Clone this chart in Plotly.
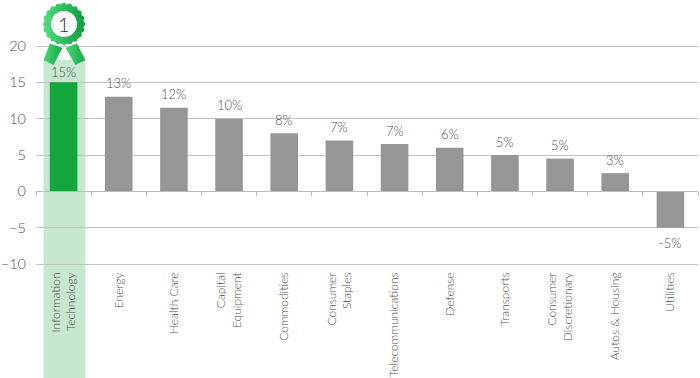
import base64, math
import plotly.graph_objects as go

categories = ["Information<br>Technology", "Energy", "Health Care", "Capital<br>Equipment", "Commodities",
              "Consumer<br>Staples", "Telecommunications", "Defense", "Transports",
              "Consumer<br>Discretionary", "Autos & Housing", "Utilities"]
values = [15, 13, 11.5, 10, 8, 7, 6.5, 6, 5, 4.5, 2.5, -5]
labels = ["15%", "13%", "12%", "10%", "8%", "7%", "7%", "6%", "5%", "5%", "3%", "-5%"]
label_gaps = [10.5, 13.5, 13.5, 13.5, 13.5, 13.5, 13.5, 13.5, 13.5, 13.5, 13.5, -15]
y_ticks = [-10, -5, 0, 5, 10, 15, 20]

GREEN = "#12a63d"
GREY = "#969696"
BAND = "#c5e8cf"
TEXT = "#505050"
FONT = "Lato"
W, H = 700, 378
L, R, T, B = 35.5, 698, 44, 266
PAD = 2 * 30 / 218  # range padding of two pixels, so the edge gridlines are still drawn

colors = [GREEN] + [GREY] * (len(values) - 1)

# medal graphic (decorative) as SVG
n = 20
pts = []
cx, cy = 32, 21.5
for i in range(n * 4):
    a = 2 * math.pi * i / (n * 4)
    r = 20.6 + 0.9 * math.cos(a * n)
    pts.append(f"{cx + r * math.cos(a):.2f},{cy + r * math.sin(a):.2f}")
svg = f'''<svg xmlns="http://www.w3.org/2000/svg" width="64" height="64" viewBox="0 0 64 64">
<defs><linearGradient id="g" x1="0" x2="1" y1="0" y2="0"><stop offset="0" stop-color="#4fe07f"/><stop offset="1" stop-color="#119a40"/></linearGradient>
<linearGradient id="h" x1="0" x2="1" y1="0" y2="0"><stop offset="0" stop-color="#45d974"/><stop offset="1" stop-color="#16a648"/></linearGradient></defs>
<polygon points="18,41 30.5,45.5 21.5,62.5 11.5,57.5" fill="url(#h)"/>
<polygon points="45,41 33.5,45.5 43.5,62.5 53.5,57.5" fill="url(#h)"/>
<polygon points="{' '.join(pts)}" fill="url(#g)"/>
<circle cx="{cx}" cy="{cy}" r="13" fill="#ffffff"/></svg>'''
uri = "data:image/svg+xml;base64," + base64.b64encode(svg.encode()).decode()

fig = go.Figure()
fig.add_trace(go.Bar(x=list(range(len(values))), y=values, marker=dict(color=colors, line=dict(width=0)),
                     width=0.5, hoverinfo="skip"))
fig.add_trace(go.Scatter(x=[0], y=[0], xaxis="x2", mode="markers", marker=dict(opacity=0), hoverinfo="skip"))

for i, (v, lab, gap) in enumerate(zip(values, labels, label_gaps)):
    fig.add_annotation(x=i, y=v, text=lab, showarrow=False, xanchor="center", yanchor="middle", yshift=gap,
                       font=dict(family=FONT, size=13, color=TEXT, weight=300))

def px(x): return (x - L) / (R - L)
def py(y): return (B - y) / (B - T)

fig.add_shape(type="rect", xref="paper", yref="paper", x0=px(43), x1=px(84.5), y0=py(378), y1=py(60),
              fillcolor=BAND, line=dict(width=0), layer="below")
fig.add_layout_image(source=uri, xref="paper", yref="paper", x=px(31.5), y=py(2.5), sizex=64 / (R - L), sizey=64 / (B - T),
                     xanchor="left", yanchor="top", sizing="stretch", layer="above")
fig.add_annotation(text="1", xref="paper", yref="paper", x=px(63.5), y=py(24), showarrow=False,
                   xanchor="center", yanchor="middle",
                   font=dict(family=FONT, size=20, color="#333333", weight=300))

fig.update_layout(
    width=W, height=H, autosize=False, showlegend=False, plot_bgcolor="white", paper_bgcolor="white",
    margin=dict(l=L, r=W - R, t=T, b=H - B, pad=0), bargap=0.5,
    xaxis=dict(tickmode="array", tickvals=list(range(len(values))), ticktext=categories, tickangle=-90,
               range=[-0.5, len(values) - 0.5], showgrid=False, zeroline=False, ticks="", ticklen=0, automargin=False,
               showline=False, ticklabelstandoff=3, tickfont=dict(family=FONT, size=12, color=TEXT, weight=300)),
    xaxis2=dict(overlaying="x", matches="x", anchor="free", position=(10 + PAD) / (30 + 2 * PAD), type="linear", automargin=False,
                tickmode="array", tickvals=[i + 0.5 for i in range(-1, len(values))], ticktext=[""] * (len(values) + 1),
                ticks="outside", ticklen=4, tickcolor="#bbbbbb", showgrid=False, zeroline=False,
                showline=True, linecolor="#bbbbbb", linewidth=1, side="bottom"),
    yaxis=dict(range=[-10 - PAD, 20 + PAD], tickvals=y_ticks, showgrid=True, gridcolor="#c4c4c4", gridwidth=1, zeroline=False, automargin=False,
               showline=False, ticks="", ticklabelstandoff=9, tickfont=dict(family=FONT, size=14.5, color=TEXT, weight=300)),
)
fig.write_html("out.html", config=dict(displayModeBar=False),
               post_script="document.body.style.margin='0';document.documentElement.style.overflow='hidden';")
